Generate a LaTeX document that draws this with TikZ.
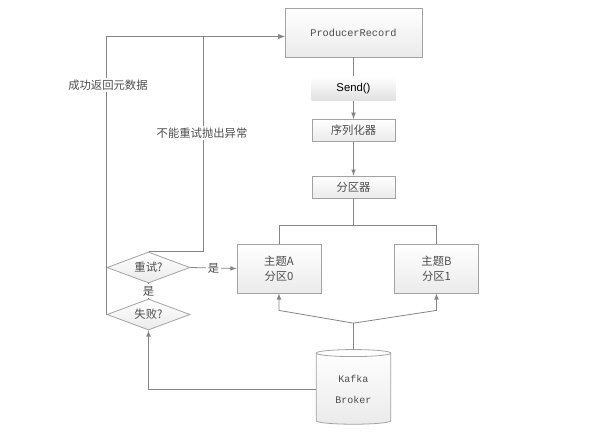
\documentclass[tikz,border=0pt]{standalone}
\usepackage{fontspec}
\setmainfont{Noto Sans CJK SC}
\newfontfamily\monofont{Liberation Mono}
\newfontfamily\sendfont{Liberation Sans}
\usepackage{tikz}
\usetikzlibrary{arrows,shapes.geometric}
\usetikzlibrary{positioning}
\definecolor{linegray}{HTML}{858585}
\definecolor{bordergray}{HTML}{A3A3A3}
\definecolor{textgray}{HTML}{4D4D4D}
\tikzset{
    box/.style={
      rectangle,
           draw=bordergray, line width=0.6pt,
           top color=white, bottom color=black!8,
           inner sep=2pt,
           text centered, align=center,
           minimum width=63pt, minimum height=36.75pt,
           },
}
\tikzset{
    stage/.style={
      rectangle,
           draw=bordergray, line width=0.6pt,
           top color=white, bottom color=black!8,
           inner sep=2pt,
           text centered,
           minimum width=62.25pt, minimum height=16.5pt,
           },
}
\tikzset{
    sendbox/.style={
      rectangle,
           draw=none,
           top color=white, bottom color=black!12,
           inner sep=2pt,
           text centered,
           minimum width=63pt, minimum height=18pt,
           font=\sendfont\fontsize{8.5pt}{10pt}\selectfont, text=black,
           },
}
\tikzset{
    decision/.style={
      diamond, aspect=2.7,
           draw=bordergray, line width=0.6pt,
           top color=white, bottom color=black!8,
           inner sep=0pt,
           text centered,
           minimum width=62.25pt, minimum height=23.25pt,
           },
}
\tikzset{
    store/.style={
      cylinder, shape border rotate=90, aspect=0.17,
           draw=bordergray, line width=0.6pt,
           top color=white, bottom color=black!8,
           inner sep=2pt,
           text centered, align=center,
           minimum width=56pt, minimum height=56pt,
           font=\monofont\fontsize{7.5pt}{16pt}\selectfont,
           },
}
\tikzset{
    tag/.style={
      fill=white, inner sep=1.5pt,
           },
}

\begin{document}
\begin{tikzpicture}[x=0.75pt,y=-0.75pt,>=latex,line width=0.6pt,font=\fontsize{8.5pt}{11pt}\selectfont,text=textgray]
\useasboundingbox (0,0) rectangle (590,433);

\node[box,minimum width=102.75pt,font=\monofont\fontsize{7.7pt}{10pt}\selectfont](pr) at (353.5,32.5){ProducerRecord};
\node[sendbox,below = 14pt of pr](send){Send()};
\node[stage,below = 13.5pt of send](ser){序列化器};
\node[stage,below = 25.5pt of ser](part){分区器};

\path (pr) edge[draw=linegray](send);
\path (send) edge[->,draw=linegray](ser);
\path (ser) edge[->,draw=linegray](part);

\node[box](ta) at (279,268.5){主题A\\分区0};
\node[box](tb) at (436.5,268.5){主题B\\分区1};

\draw[draw=linegray] (part.south) -- ++(0,27) -| (ta.north);
\draw[draw=linegray] (part.south) -- ++(0,27) -| (tb.north);

\node[store](kafka) at (353.5,389.5){Kafka\\Broker};

\draw[->,draw=linegray] (kafka.north) -- ++(0,-26) -- ([yshift=-12.75pt]ta.south) -- (ta.south);
\draw[->,draw=linegray] (kafka.north) -- ++(0,-26) -- ([yshift=-12.75pt]tb.south) -- (tb.south);

\node[decision](retry) at (148.5,267.5){重试?};
\node[decision](fail) at (148.5,314.5){失败?};

\draw[->,draw=linegray] (kafka.west) -| (fail.south);
\path (fail) edge[draw=linegray] node[tag](yes1){是} (retry);
\path (retry.east) edge[->,draw=linegray] node[tag](yes2){是} (ta.west);

\draw[->,draw=linegray] (fail.west) |- ([yshift=-3pt]pr.west);
\draw[->,draw=linegray] (retry.north) -- ++(55,0) |- ([yshift=-3pt]pr.west);

\node[tag](ok) at (108,85){成功返回元数据};
\node[tag](err) at (202,133){不能重试抛出异常};

\end{tikzpicture}
\end{document}
